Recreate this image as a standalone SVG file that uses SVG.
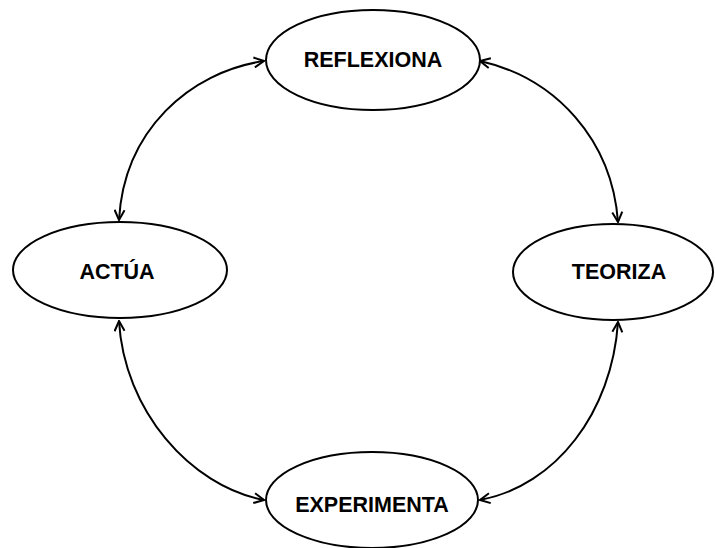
<svg xmlns="http://www.w3.org/2000/svg" width="715" height="548" viewBox="0 0 715 548">
<style>
.node ellipse{fill:#fff;stroke:#000;stroke-width:2}
.node text{font-family:"Liberation Sans",Arial,sans-serif;font-weight:bold;font-size:21.5px;fill:#000;text-anchor:middle}
.conn path{fill:none;stroke:#000;stroke-width:2}
</style>
<defs>
<marker id="arr" viewBox="0 0 12 12" refX="11" refY="6" markerWidth="12" markerHeight="12" markerUnits="userSpaceOnUse" orient="auto-start-reverse">
<polyline points="1,1 11,6 1,11" fill="none" stroke="#000" stroke-width="2"/>
</marker>
</defs>
<rect width="715" height="548" fill="#fff"/>
<g id="connectors" class="conn">
<path d="M264,61 C190,72 124,130 119,220" marker-start="url(#arr)" marker-end="url(#arr)"/>
<path d="M480,61 C556,78 612,140 618,222" marker-start="url(#arr)" marker-end="url(#arr)"/>
<path d="M119,321 C124,410 190,486 264,500" marker-start="url(#arr)" marker-end="url(#arr)"/>
<path d="M480,500 C556,486 612,412 618,322" marker-start="url(#arr)" marker-end="url(#arr)"/>
</g>
<g id="reflexiona" class="node"><ellipse cx="373" cy="60" rx="107" ry="50"/><text x="373" y="67">REFLEXIONA</text></g>
<g id="actua" class="node"><ellipse cx="120" cy="270" rx="107" ry="48"/><text x="117" y="279">ACTÚA</text></g>
<g id="teoriza" class="node"><ellipse cx="613" cy="272" rx="100" ry="48"/><text x="619" y="279">TEORIZA</text></g>
<g id="experimenta" class="node"><ellipse cx="372" cy="500" rx="106" ry="48"/><text x="372" y="512">EXPERIMENTA</text></g>
</svg>
